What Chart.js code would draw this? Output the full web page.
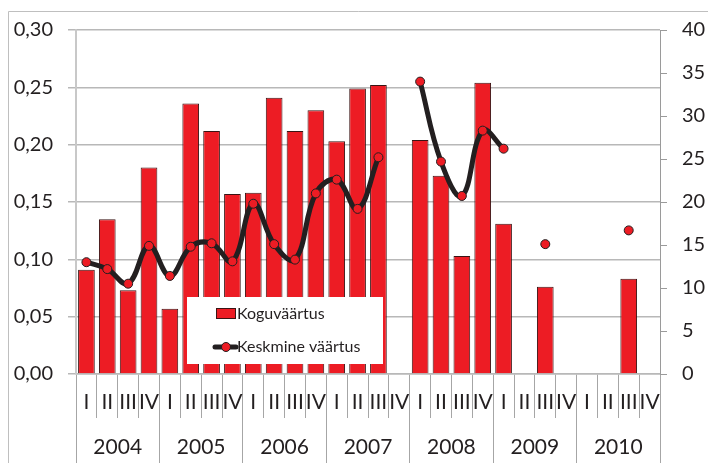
<!DOCTYPE html>
<html>
<head>
<meta charset="utf-8">
<script src="https://cdn.jsdelivr.net/npm/chart.js@4"></script>
<style>
  html, body { margin: 0; padding: 0; background: #ffffff; }
  #wrap { position: relative; width: 708px; height: 463px; }
</style>
</head>
<body>
<div id="wrap"><canvas id="c" width="708" height="463"></canvas></div>
<script>
// ---- data ----
const years = ['2004', '2005', '2006', '2007', '2008', '2009', '2010'];
const quarterNames = ['I', 'II', 'III', 'IV'];
const koguvaartus = [
  0.091, 0.135, 0.073, 0.180,
  0.057, 0.236, 0.212, 0.157,
  0.158, 0.241, 0.212, 0.230,
  0.203, 0.249, 0.252, null,
  0.204, 0.173, 0.103, 0.254,
  0.131, null, 0.076, null,
  null, null, 0.083, null
];
const keskmineVaartus = [
  13.0, 12.2, 10.5, 14.9,
  11.4, 14.8, 15.2, 13.1,
  19.8, 15.1, 13.3, 21.0,
  22.6, 19.2, 25.2, null,
  34.0, 24.7, 20.7, 28.3,
  26.2, null, 15.1, null,
  null, null, 16.7, null
];
const seriesNames = ['Koguväärtus', 'Keskmine väärtus'];
const leftTicks = { min: 0, max: 0.30, step: 0.05 };
const rightTicks = { min: 0, max: 40, step: 5 };

// category labels built from years x quarters
const labels = [];
years.forEach(() => quarterNames.forEach(q => labels.push(q)));

const RED = '#ed1c24';
const DARK = '#231f20';
const GRID = '#b8b8b8';
const tickFont = { family: 'Lato, "Liberation Sans", sans-serif', size: 20 };
const quarterFont = { family: 'Lato, sans-serif', size: 21 };
const yearFont = { family: 'Lato, sans-serif', size: 21 };

const frameAndLegend = {
  id: 'frameAndLegend',
  beforeDraw(chart) {
    const ctx = chart.ctx;
    ctx.save();
    ctx.strokeStyle = '#bfbfbf';
    ctx.lineWidth = 1;
    ctx.beginPath();
    ctx.moveTo(8.5, chart.height);
    ctx.lineTo(8.5, 11.5);
    ctx.lineTo(chart.width, 11.5);
    ctx.stroke();
    ctx.restore();
  },
  afterDatasetsDraw(chart) {
    const ctx = chart.ctx;
    const ca = chart.chartArea;
    const bx = ca.left + 111, by = ca.top + 267, bw = 196, bh = 67;
    ctx.save();
    ctx.fillStyle = '#ffffff';
    ctx.fillRect(bx, by, bw, bh);
    // bar swatch
    ctx.fillStyle = RED;
    ctx.fillRect(bx + 29, by + 11, 20, 11);
    ctx.strokeStyle = '#3a1414';
    ctx.lineWidth = 1;
    ctx.strokeRect(bx + 29.5, by + 11.5, 19, 10);
    // line swatch
    ctx.strokeStyle = DARK;
    ctx.lineWidth = 5;
    ctx.lineCap = 'round';
    ctx.beginPath();
    ctx.moveTo(bx + 28, by + 50);
    ctx.lineTo(bx + 49, by + 50);
    ctx.stroke();
    ctx.beginPath();
    ctx.arc(bx + 39, by + 50, 4.5, 0, Math.PI * 2);
    ctx.fillStyle = RED;
    ctx.fill();
    ctx.lineWidth = 1;
    ctx.strokeStyle = DARK;
    ctx.stroke();
    // text
    ctx.fillStyle = DARK;
    ctx.font = '16px Lato, sans-serif';
    ctx.textBaseline = 'middle';
    ctx.textAlign = 'left';
    ctx.fillText(seriesNames[0], bx + 50, by + 17);
    ctx.fillText(seriesNames[1], bx + 50, by + 50);
    ctx.restore();
  }
};

new Chart(document.getElementById('c'), {
  type: 'bar',
  data: {
    labels: labels,
    datasets: [
      {
        type: 'line',
        label: seriesNames[1],
        data: keskmineVaartus,
        yAxisID: 'y2',
        xAxisID: 'x',
        borderColor: DARK,
        borderWidth: 5,
        tension: 0.4,
        spanGaps: false,
        pointRadius: 4.5,
        pointBackgroundColor: RED,
        pointBorderColor: DARK,
        pointBorderWidth: 1,
        order: 0
      },
      {
        type: 'bar',
        label: seriesNames[0],
        data: koguvaartus,
        yAxisID: 'y',
        xAxisID: 'x',
        backgroundColor: RED,
        borderColor: '#3a1414',
        borderWidth: 1,
        barPercentage: 0.8,
        categoryPercentage: 1.0,
        order: 1
      }
    ]
  },
  options: {
    responsive: false,
    animation: false,
    devicePixelRatio: 1,
    layout: { padding: { top: 30, left: 0, right: 0, bottom: 0 } },
    plugins: { legend: { display: false }, tooltip: { enabled: false } },
    scales: {
      x: {
        type: 'category',
        position: 'bottom',
        weight: 0,
        offset: true,
        grid: { offset: true, drawOnChartArea: false, tickLength: 44, color: '#a6a6a6', lineWidth: 1 },
        border: { display: true, color: GRID, width: 1.5 },
        ticks: { autoSkip: false, maxRotation: 0, minRotation: 0, padding: -28, color: DARK, font: quarterFont },
        afterFit(s) { s.height = 44; }
      },
      x2: {
        type: 'category',
        labels: years,
        position: 'bottom',
        weight: 1,
        offset: true,
        grid: { offset: true, drawOnChartArea: false, tickLength: 45, color: '#a6a6a6', lineWidth: 1 },
        border: { display: false },
        ticks: { autoSkip: false, maxRotation: 0, minRotation: 0, padding: -28, color: DARK, font: yearFont },
        afterFit(s) { s.height = 45; }
      },
      y: {
        position: 'left',
        min: leftTicks.min,
        max: leftTicks.max,
        ticks: {
          stepSize: leftTicks.step,
          padding: 15,
          color: DARK,
          font: tickFont,
          callback: v => v.toFixed(2).replace('.', ',')
        },
        grid: { color: GRID, lineWidth: 1.5, tickLength: 8 },
        border: { display: true, color: '#c8c8c8', width: 2 },
        afterFit(s) { s.width = 76; }
      },
      y2: {
        position: 'right',
        min: rightTicks.min,
        max: rightTicks.max,
        ticks: { stepSize: rightTicks.step, padding: 15, color: DARK, font: tickFont },
        grid: { drawOnChartArea: false, color: '#9a9a9a', lineWidth: 1, tickLength: 7 },
        border: { display: true, color: '#9a9a9a', width: 1 },
        afterFit(s) { s.width = 48; }
      }
    }
  },
  plugins: [frameAndLegend]
});
</script>
</body>
</html>
